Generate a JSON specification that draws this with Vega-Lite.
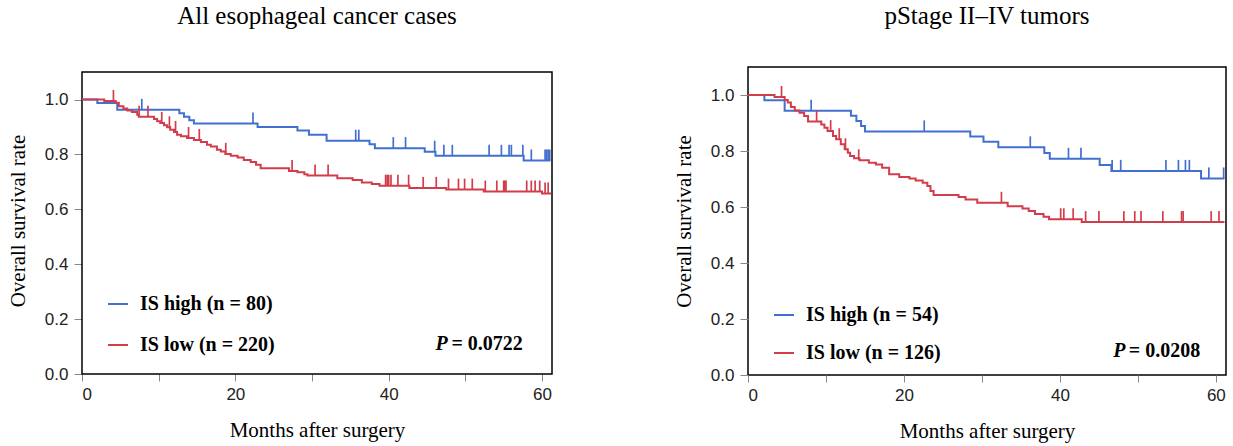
{
  "$schema": "https://vega.github.io/schema/vega-lite/v6.json",
  "padding": {"left": 7, "top": 3, "right": 3, "bottom": 3},
  "spacing": 119,
  "config": {
    "view": {"stroke": "#000", "strokeWidth": 1.5},
    "axis": {"domain": false, "grid": false, "tickColor": "#888", "tickSize": 8, "tickWidth": 1,
      "labelFont": "Liberation Sans", "labelFontSize": 17, "labelColor": "#222", "labelPadding": 6,
      "titleFont": "Liberation Serif", "titleFontSize": 21, "titleFontWeight": "normal", "titleColor": "#000"},
    "axisX": {"titlePadding": 17, "tickSize": 7, "labelPadding": 5},
    "axisY": {"titlePadding": 16},
    "title": {"font": "Liberation Serif", "fontSize": 25, "fontWeight": "normal", "color": "#000", "anchor": "middle"}
  },
  "resolve": {"scale": {"color": "independent", "x": "independent", "y": "independent"}, "legend": {"color": "independent"}},
  "datasets": {
    "all_curve": [
      {"group": "IS high (n = 80)", "t": 0, "s": 1.0},
      {"group": "IS high (n = 80)", "t": 2.0, "s": 0.9875},
      {"group": "IS high (n = 80)", "t": 4.6, "s": 0.9625},
      {"group": "IS high (n = 80)", "t": 12.7, "s": 0.95},
      {"group": "IS high (n = 80)", "t": 13.3, "s": 0.9375},
      {"group": "IS high (n = 80)", "t": 14.0, "s": 0.925},
      {"group": "IS high (n = 80)", "t": 14.6, "s": 0.913},
      {"group": "IS high (n = 80)", "t": 22.9, "s": 0.9},
      {"group": "IS high (n = 80)", "t": 28.1, "s": 0.887},
      {"group": "IS high (n = 80)", "t": 29.6, "s": 0.872},
      {"group": "IS high (n = 80)", "t": 31.9, "s": 0.85},
      {"group": "IS high (n = 80)", "t": 37.5, "s": 0.837},
      {"group": "IS high (n = 80)", "t": 38.2, "s": 0.823},
      {"group": "IS high (n = 80)", "t": 44.7, "s": 0.81},
      {"group": "IS high (n = 80)", "t": 46.1, "s": 0.795},
      {"group": "IS high (n = 80)", "t": 57.6, "s": 0.778},
      {"group": "IS high (n = 80)", "t": 61.1, "s": 0.778},
      {"group": "IS low (n = 220)", "t": 0, "s": 1.0},
      {"group": "IS low (n = 220)", "t": 2.9, "s": 0.995},
      {"group": "IS low (n = 220)", "t": 4.4, "s": 0.988},
      {"group": "IS low (n = 220)", "t": 4.8, "s": 0.976},
      {"group": "IS low (n = 220)", "t": 5.4, "s": 0.967},
      {"group": "IS low (n = 220)", "t": 5.9, "s": 0.96},
      {"group": "IS low (n = 220)", "t": 6.5, "s": 0.955},
      {"group": "IS low (n = 220)", "t": 7.2, "s": 0.945},
      {"group": "IS low (n = 220)", "t": 7.4, "s": 0.937},
      {"group": "IS low (n = 220)", "t": 9.4, "s": 0.929},
      {"group": "IS low (n = 220)", "t": 9.8, "s": 0.921},
      {"group": "IS low (n = 220)", "t": 10.2, "s": 0.915},
      {"group": "IS low (n = 220)", "t": 10.7, "s": 0.906},
      {"group": "IS low (n = 220)", "t": 11.1, "s": 0.899},
      {"group": "IS low (n = 220)", "t": 11.5, "s": 0.89},
      {"group": "IS low (n = 220)", "t": 12.0, "s": 0.882},
      {"group": "IS low (n = 220)", "t": 12.4, "s": 0.872},
      {"group": "IS low (n = 220)", "t": 12.9, "s": 0.866},
      {"group": "IS low (n = 220)", "t": 13.7, "s": 0.86},
      {"group": "IS low (n = 220)", "t": 14.6, "s": 0.853},
      {"group": "IS low (n = 220)", "t": 15.5, "s": 0.845},
      {"group": "IS low (n = 220)", "t": 16.3, "s": 0.835},
      {"group": "IS low (n = 220)", "t": 16.8, "s": 0.829},
      {"group": "IS low (n = 220)", "t": 17.6, "s": 0.817},
      {"group": "IS low (n = 220)", "t": 18.1, "s": 0.811},
      {"group": "IS low (n = 220)", "t": 18.7, "s": 0.802},
      {"group": "IS low (n = 220)", "t": 19.4, "s": 0.795},
      {"group": "IS low (n = 220)", "t": 20.3, "s": 0.789},
      {"group": "IS low (n = 220)", "t": 21.1, "s": 0.78},
      {"group": "IS low (n = 220)", "t": 22.0, "s": 0.772},
      {"group": "IS low (n = 220)", "t": 22.7, "s": 0.762},
      {"group": "IS low (n = 220)", "t": 23.3, "s": 0.75},
      {"group": "IS low (n = 220)", "t": 27.0, "s": 0.74},
      {"group": "IS low (n = 220)", "t": 28.1, "s": 0.735},
      {"group": "IS low (n = 220)", "t": 29.0, "s": 0.728},
      {"group": "IS low (n = 220)", "t": 29.4, "s": 0.723},
      {"group": "IS low (n = 220)", "t": 33.3, "s": 0.713},
      {"group": "IS low (n = 220)", "t": 35.3, "s": 0.707},
      {"group": "IS low (n = 220)", "t": 36.5, "s": 0.698},
      {"group": "IS low (n = 220)", "t": 37.8, "s": 0.692},
      {"group": "IS low (n = 220)", "t": 38.8, "s": 0.686},
      {"group": "IS low (n = 220)", "t": 42.7, "s": 0.678},
      {"group": "IS low (n = 220)", "t": 47.5, "s": 0.672},
      {"group": "IS low (n = 220)", "t": 52.4, "s": 0.665},
      {"group": "IS low (n = 220)", "t": 60.0, "s": 0.658},
      {"group": "IS low (n = 220)", "t": 61.2, "s": 0.658}
    ],
    "all_censor": [
      {"group": "IS high (n = 80)", "t": 7.8, "s": 0.9625},
      {"group": "IS high (n = 80)", "t": 22.3, "s": 0.913},
      {"group": "IS high (n = 80)", "t": 35.7, "s": 0.85},
      {"group": "IS high (n = 80)", "t": 36.1, "s": 0.85},
      {"group": "IS high (n = 80)", "t": 40.6, "s": 0.823},
      {"group": "IS high (n = 80)", "t": 42.2, "s": 0.823},
      {"group": "IS high (n = 80)", "t": 46.0, "s": 0.81},
      {"group": "IS high (n = 80)", "t": 47.2, "s": 0.795},
      {"group": "IS high (n = 80)", "t": 48.3, "s": 0.795},
      {"group": "IS high (n = 80)", "t": 53.1, "s": 0.795},
      {"group": "IS high (n = 80)", "t": 54.7, "s": 0.795},
      {"group": "IS high (n = 80)", "t": 55.7, "s": 0.795},
      {"group": "IS high (n = 80)", "t": 56.0, "s": 0.795},
      {"group": "IS high (n = 80)", "t": 57.5, "s": 0.795},
      {"group": "IS high (n = 80)", "t": 58.6, "s": 0.778},
      {"group": "IS high (n = 80)", "t": 60.4, "s": 0.778},
      {"group": "IS high (n = 80)", "t": 60.6, "s": 0.778},
      {"group": "IS high (n = 80)", "t": 60.8, "s": 0.778},
      {"group": "IS high (n = 80)", "t": 61.0, "s": 0.778},
      {"group": "IS low (n = 220)", "t": 4.1, "s": 0.995},
      {"group": "IS low (n = 220)", "t": 7.45, "s": 0.937},
      {"group": "IS low (n = 220)", "t": 8.6, "s": 0.937},
      {"group": "IS low (n = 220)", "t": 10.4, "s": 0.915},
      {"group": "IS low (n = 220)", "t": 11.4, "s": 0.899},
      {"group": "IS low (n = 220)", "t": 12.2, "s": 0.882},
      {"group": "IS low (n = 220)", "t": 13.9, "s": 0.86},
      {"group": "IS low (n = 220)", "t": 15.3, "s": 0.853},
      {"group": "IS low (n = 220)", "t": 18.75, "s": 0.802},
      {"group": "IS low (n = 220)", "t": 27.4, "s": 0.74},
      {"group": "IS low (n = 220)", "t": 30.4, "s": 0.723},
      {"group": "IS low (n = 220)", "t": 32.1, "s": 0.723},
      {"group": "IS low (n = 220)", "t": 39.6, "s": 0.686},
      {"group": "IS low (n = 220)", "t": 39.8, "s": 0.686},
      {"group": "IS low (n = 220)", "t": 40.0, "s": 0.686},
      {"group": "IS low (n = 220)", "t": 40.3, "s": 0.686},
      {"group": "IS low (n = 220)", "t": 41.2, "s": 0.686},
      {"group": "IS low (n = 220)", "t": 42.6, "s": 0.686},
      {"group": "IS low (n = 220)", "t": 44.5, "s": 0.678},
      {"group": "IS low (n = 220)", "t": 46.2, "s": 0.678},
      {"group": "IS low (n = 220)", "t": 47.8, "s": 0.672},
      {"group": "IS low (n = 220)", "t": 49.1, "s": 0.672},
      {"group": "IS low (n = 220)", "t": 49.9, "s": 0.672},
      {"group": "IS low (n = 220)", "t": 50.9, "s": 0.672},
      {"group": "IS low (n = 220)", "t": 52.6, "s": 0.665},
      {"group": "IS low (n = 220)", "t": 54.1, "s": 0.665},
      {"group": "IS low (n = 220)", "t": 55.0, "s": 0.665},
      {"group": "IS low (n = 220)", "t": 55.15, "s": 0.665},
      {"group": "IS low (n = 220)", "t": 55.3, "s": 0.665},
      {"group": "IS low (n = 220)", "t": 58.0, "s": 0.665},
      {"group": "IS low (n = 220)", "t": 58.6, "s": 0.665},
      {"group": "IS low (n = 220)", "t": 59.1, "s": 0.665},
      {"group": "IS low (n = 220)", "t": 59.7, "s": 0.665},
      {"group": "IS low (n = 220)", "t": 60.4, "s": 0.658},
      {"group": "IS low (n = 220)", "t": 60.8, "s": 0.658}
    ],
    "stage_curve": [
      {"group": "IS high (n = 54)", "t": 0, "s": 1.0},
      {"group": "IS high (n = 54)", "t": 2.1, "s": 0.981},
      {"group": "IS high (n = 54)", "t": 4.7, "s": 0.944},
      {"group": "IS high (n = 54)", "t": 13.2, "s": 0.926},
      {"group": "IS high (n = 54)", "t": 13.9, "s": 0.907},
      {"group": "IS high (n = 54)", "t": 14.5, "s": 0.889},
      {"group": "IS high (n = 54)", "t": 15.0, "s": 0.87},
      {"group": "IS high (n = 54)", "t": 28.5, "s": 0.852},
      {"group": "IS high (n = 54)", "t": 30.2, "s": 0.833},
      {"group": "IS high (n = 54)", "t": 32.1, "s": 0.813},
      {"group": "IS high (n = 54)", "t": 38.0, "s": 0.793},
      {"group": "IS high (n = 54)", "t": 38.7, "s": 0.772},
      {"group": "IS high (n = 54)", "t": 45.1, "s": 0.75},
      {"group": "IS high (n = 54)", "t": 46.6, "s": 0.729},
      {"group": "IS high (n = 54)", "t": 58.1, "s": 0.702},
      {"group": "IS high (n = 54)", "t": 61.1, "s": 0.702},
      {"group": "IS low (n = 126)", "t": 0, "s": 1.0},
      {"group": "IS low (n = 126)", "t": 3.4, "s": 0.993},
      {"group": "IS low (n = 126)", "t": 4.7, "s": 0.982},
      {"group": "IS low (n = 126)", "t": 5.1, "s": 0.973},
      {"group": "IS low (n = 126)", "t": 5.5, "s": 0.957},
      {"group": "IS low (n = 126)", "t": 6.0, "s": 0.945},
      {"group": "IS low (n = 126)", "t": 6.6, "s": 0.937},
      {"group": "IS low (n = 126)", "t": 7.2, "s": 0.925},
      {"group": "IS low (n = 126)", "t": 7.7, "s": 0.905},
      {"group": "IS low (n = 126)", "t": 9.4, "s": 0.895},
      {"group": "IS low (n = 126)", "t": 9.8, "s": 0.883},
      {"group": "IS low (n = 126)", "t": 10.2, "s": 0.871},
      {"group": "IS low (n = 126)", "t": 10.9, "s": 0.854},
      {"group": "IS low (n = 126)", "t": 11.3, "s": 0.842},
      {"group": "IS low (n = 126)", "t": 11.9, "s": 0.824},
      {"group": "IS low (n = 126)", "t": 12.4, "s": 0.806},
      {"group": "IS low (n = 126)", "t": 12.8, "s": 0.794},
      {"group": "IS low (n = 126)", "t": 13.1, "s": 0.782},
      {"group": "IS low (n = 126)", "t": 13.6, "s": 0.774},
      {"group": "IS low (n = 126)", "t": 14.3, "s": 0.767},
      {"group": "IS low (n = 126)", "t": 15.5, "s": 0.758},
      {"group": "IS low (n = 126)", "t": 16.4, "s": 0.752},
      {"group": "IS low (n = 126)", "t": 17.2, "s": 0.74},
      {"group": "IS low (n = 126)", "t": 18.1, "s": 0.717},
      {"group": "IS low (n = 126)", "t": 19.4, "s": 0.707},
      {"group": "IS low (n = 126)", "t": 20.7, "s": 0.702},
      {"group": "IS low (n = 126)", "t": 21.5, "s": 0.695},
      {"group": "IS low (n = 126)", "t": 22.4, "s": 0.687},
      {"group": "IS low (n = 126)", "t": 23.0, "s": 0.675},
      {"group": "IS low (n = 126)", "t": 23.4, "s": 0.657},
      {"group": "IS low (n = 126)", "t": 23.8, "s": 0.643},
      {"group": "IS low (n = 126)", "t": 27.0, "s": 0.636},
      {"group": "IS low (n = 126)", "t": 27.9, "s": 0.627},
      {"group": "IS low (n = 126)", "t": 29.4, "s": 0.615},
      {"group": "IS low (n = 126)", "t": 33.3, "s": 0.603},
      {"group": "IS low (n = 126)", "t": 35.2, "s": 0.595},
      {"group": "IS low (n = 126)", "t": 36.0, "s": 0.586},
      {"group": "IS low (n = 126)", "t": 36.8, "s": 0.575},
      {"group": "IS low (n = 126)", "t": 37.9, "s": 0.565},
      {"group": "IS low (n = 126)", "t": 38.6, "s": 0.556},
      {"group": "IS low (n = 126)", "t": 42.8, "s": 0.546},
      {"group": "IS low (n = 126)", "t": 61.1, "s": 0.546}
    ],
    "stage_censor": [
      {"group": "IS high (n = 54)", "t": 8.1, "s": 0.944},
      {"group": "IS high (n = 54)", "t": 22.6, "s": 0.87},
      {"group": "IS high (n = 54)", "t": 36.2, "s": 0.813},
      {"group": "IS high (n = 54)", "t": 41.1, "s": 0.772},
      {"group": "IS high (n = 54)", "t": 42.7, "s": 0.772},
      {"group": "IS high (n = 54)", "t": 46.7, "s": 0.729},
      {"group": "IS high (n = 54)", "t": 47.8, "s": 0.729},
      {"group": "IS high (n = 54)", "t": 53.6, "s": 0.729},
      {"group": "IS high (n = 54)", "t": 55.2, "s": 0.729},
      {"group": "IS high (n = 54)", "t": 56.1, "s": 0.729},
      {"group": "IS high (n = 54)", "t": 56.6, "s": 0.729},
      {"group": "IS high (n = 54)", "t": 59.1, "s": 0.702},
      {"group": "IS high (n = 54)", "t": 61.0, "s": 0.702},
      {"group": "IS low (n = 126)", "t": 4.3, "s": 0.993},
      {"group": "IS low (n = 126)", "t": 8.8, "s": 0.905},
      {"group": "IS low (n = 126)", "t": 10.6, "s": 0.871},
      {"group": "IS low (n = 126)", "t": 11.7, "s": 0.842},
      {"group": "IS low (n = 126)", "t": 12.5, "s": 0.806},
      {"group": "IS low (n = 126)", "t": 14.2, "s": 0.767},
      {"group": "IS low (n = 126)", "t": 32.5, "s": 0.615},
      {"group": "IS low (n = 126)", "t": 40.1, "s": 0.556},
      {"group": "IS low (n = 126)", "t": 40.5, "s": 0.556},
      {"group": "IS low (n = 126)", "t": 41.7, "s": 0.556},
      {"group": "IS low (n = 126)", "t": 43.3, "s": 0.546},
      {"group": "IS low (n = 126)", "t": 45.0, "s": 0.546},
      {"group": "IS low (n = 126)", "t": 48.2, "s": 0.546},
      {"group": "IS low (n = 126)", "t": 49.6, "s": 0.546},
      {"group": "IS low (n = 126)", "t": 50.4, "s": 0.546},
      {"group": "IS low (n = 126)", "t": 53.2, "s": 0.546},
      {"group": "IS low (n = 126)", "t": 55.6, "s": 0.546},
      {"group": "IS low (n = 126)", "t": 55.8, "s": 0.546},
      {"group": "IS low (n = 126)", "t": 59.4, "s": 0.546},
      {"group": "IS low (n = 126)", "t": 60.4, "s": 0.546}
    ],
    "pvals": [
      {"panel": "all", "p": "P", "val": "= 0.0722"},
      {"panel": "stage", "p": "P", "val": "= 0.0208"}
    ]
  },
  "hconcat": [
    {
      "title": {"text": "All esophageal cancer cases", "offset": 38},
      "width": 470,
      "height": 307,
      "view": {"stroke": null},
      "layer": [
        {
          "data": {"name": "pvals"},
          "transform": [{"filter": "datum.panel == 'all'"}],
          "mark": {"type": "rect", "fill": null, "stroke": "#000", "strokeWidth": 1.5},
          "encoding": {
            "x": {"datum": 0, "type": "quantitative"}, "x2": {"datum": 61.3},
            "y": {"datum": 0, "type": "quantitative"}, "y2": {"datum": 1.1}
          }
        },
        {
          "data": {"name": "all_curve"},
          "mark": {"type": "line", "interpolate": "step-after", "strokeWidth": 2, "clip": true},
          "encoding": {
            "x": {"field": "t", "type": "quantitative", "scale": {"domain": [0, 61.3], "nice": false, "zero": false},
              "axis": {"title": "Months after surgery", "values": [0, 5, 10, 15, 20, 25, 30, 35, 40, 45, 50, 55, 60], "labelExpr": "datum.value % 20 == 0 ? datum.label : ''"}},
            "y": {"field": "s", "type": "quantitative", "scale": {"domain": [0, 1.1186], "nice": false},
              "axis": {"title": "Overall survival rate", "values": [0, 0.1, 0.2, 0.3, 0.4, 0.5, 0.6, 0.7, 0.8, 0.9, 1.0, 1.1], "labelExpr": "(datum.value < 1.05 && round(datum.value * 10) % 2 == 0) ? format(datum.value, '.1f') : ''"}},
            "color": {"field": "group", "type": "nominal",
              "scale": {"domain": ["IS high (n = 80)", "IS low (n = 220)"], "range": ["#4270cf", "#d23d4b"]},
              "legend": {"orient": "none", "legendX": 25, "legendY": 226, "title": null, "padding": 0, "symbolType": "stroke", "symbolSize": 400, "symbolStrokeWidth": 2,
                "labelFont": "Liberation Serif", "labelFontSize": 20, "labelFontWeight": "bold", "labelColor": "#000", "rowPadding": 20, "labelOffset": 11}}
          }
        },
        {
          "data": {"name": "all_censor"},
          "mark": {"type": "tick", "orient": "vertical", "size": 11, "thickness": 1.7, "opacity": 1, "yOffset": -5.5},
          "encoding": {
            "x": {"field": "t", "type": "quantitative"},
            "y": {"field": "s", "type": "quantitative"},
            "color": {"field": "group", "type": "nominal"}
          }
        },
        {
          "data": {"name": "pvals"},
          "transform": [{"filter": "datum.panel == 'all'"}],
          "mark": {"type": "text", "align": "right", "baseline": "middle", "font": "Liberation Serif", "fontSize": 20, "fontStyle": "italic", "fontWeight": "bold", "color": "#000"},
          "encoding": {"x": {"datum": 47.7}, "y": {"datum": 0.109}, "text": {"field": "p"}}
        },
        {
          "data": {"name": "pvals"},
          "transform": [{"filter": "datum.panel == 'all'"}],
          "mark": {"type": "text", "align": "right", "baseline": "middle", "font": "Liberation Serif", "fontSize": 20, "fontWeight": "bold", "color": "#000"},
          "encoding": {"x": {"datum": 57.5}, "y": {"datum": 0.109}, "text": {"field": "val"}}
        }
      ]
    },
    {
      "title": {"text": "pStage II–IV tumors", "offset": 38},
      "width": 478,
      "height": 308,
      "layer": [
        {
          "data": {"name": "stage_curve"},
          "mark": {"type": "line", "interpolate": "step-after", "strokeWidth": 2, "clip": true},
          "encoding": {
            "x": {"field": "t", "type": "quantitative", "scale": {"domain": [0, 61.3], "nice": false, "zero": false},
              "axis": {"title": "Months after surgery", "values": [0, 10, 20, 30, 40, 50, 60], "labelExpr": "datum.value % 20 == 0 ? datum.label : ''"}},
            "y": {"field": "s", "type": "quantitative", "scale": {"domain": [0, 1.1], "nice": false},
              "axis": {"title": "Overall survival rate", "values": [0, 0.1, 0.2, 0.3, 0.4, 0.5, 0.6, 0.7, 0.8, 0.9, 1.0, 1.1], "labelExpr": "(datum.value < 1.05 && round(datum.value * 10) % 2 == 0) ? format(datum.value, '.1f') : ''"}},
            "color": {"field": "group", "type": "nominal",
              "scale": {"domain": ["IS high (n = 54)", "IS low (n = 126)"], "range": ["#4270cf", "#d23d4b"]},
              "legend": {"orient": "none", "legendX": 25, "legendY": 237, "title": null, "padding": 0, "symbolType": "stroke", "symbolSize": 400, "symbolStrokeWidth": 2,
                "labelFont": "Liberation Serif", "labelFontSize": 20, "labelFontWeight": "bold", "labelColor": "#000", "rowPadding": 17, "labelOffset": 11}}
          }
        },
        {
          "data": {"name": "stage_censor"},
          "mark": {"type": "tick", "orient": "vertical", "size": 11, "thickness": 1.7, "opacity": 1, "yOffset": -5.5},
          "encoding": {
            "x": {"field": "t", "type": "quantitative"},
            "y": {"field": "s", "type": "quantitative"},
            "color": {"field": "group", "type": "nominal"}
          }
        },
        {
          "data": {"name": "pvals"},
          "transform": [{"filter": "datum.panel == 'stage'"}],
          "mark": {"type": "text", "align": "right", "baseline": "middle", "font": "Liberation Serif", "fontSize": 20, "fontStyle": "italic", "fontWeight": "bold", "color": "#000"},
          "encoding": {"x": {"datum": 48.4}, "y": {"datum": 0.086}, "text": {"field": "p"}}
        },
        {
          "data": {"name": "pvals"},
          "transform": [{"filter": "datum.panel == 'stage'"}],
          "mark": {"type": "text", "align": "right", "baseline": "middle", "font": "Liberation Serif", "fontSize": 20, "fontWeight": "bold", "color": "#000"},
          "encoding": {"x": {"datum": 58.0}, "y": {"datum": 0.086}, "text": {"field": "val"}}
        }
      ]
    }
  ]
}
